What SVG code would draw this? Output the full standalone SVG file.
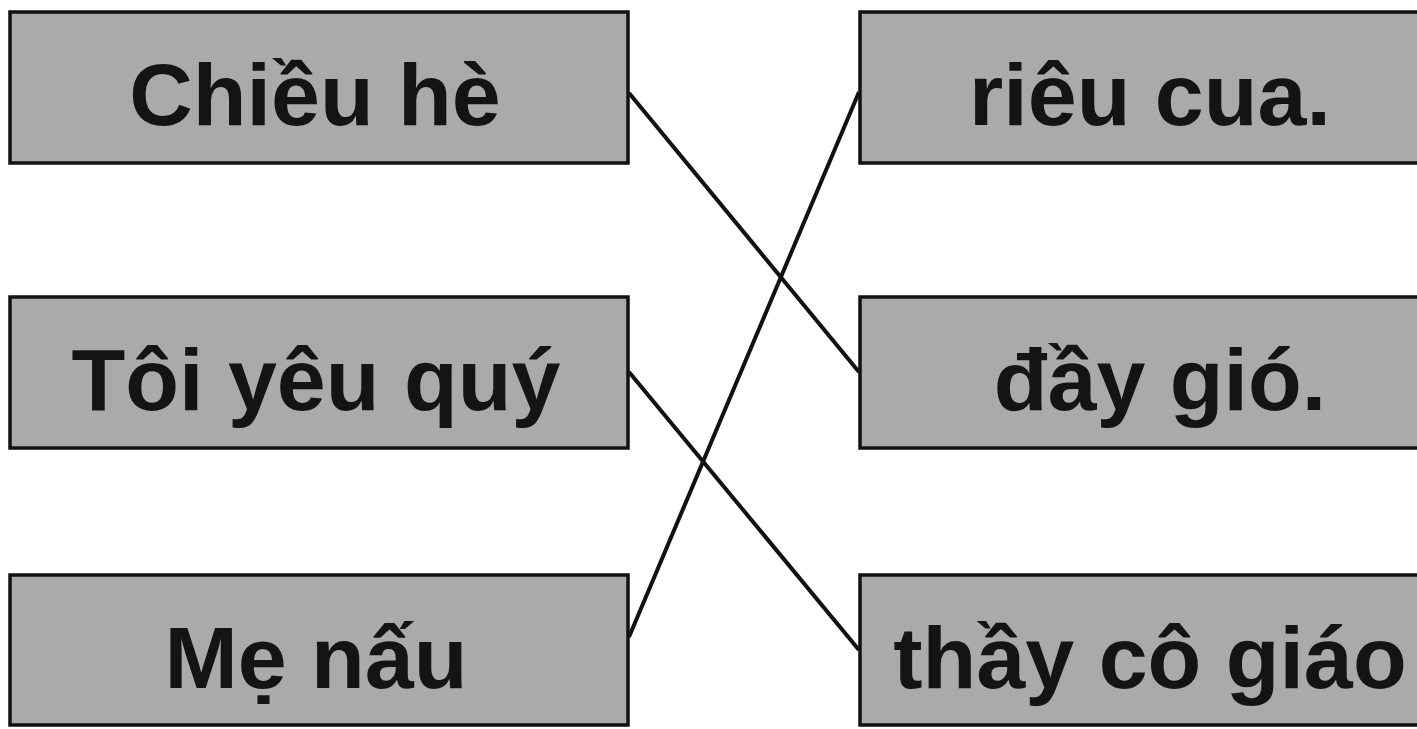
<svg xmlns="http://www.w3.org/2000/svg" width="1417" height="729" viewBox="0 0 1417 729">
<style>
.box{fill:#aaaaaa;stroke:#111;stroke-width:3.5}
.lbl{font-family:"Liberation Sans",Arial,sans-serif;font-weight:bold;font-size:88px;fill:#141414;text-anchor:middle}
.con{stroke:#111;stroke-width:4;fill:none}
</style>
<rect width="1417" height="729" fill="#fff"/>
<g id="n-chieu-he"><rect class="box" x="10" y="12" width="618" height="151"/><text class="lbl" x="315" y="125">Chiều hè</text></g>
<g id="n-toi-yeu-quy"><rect class="box" x="10" y="297" width="618" height="151"/><text class="lbl" x="316" y="410">Tôi yêu quý</text></g>
<g id="n-me-nau"><rect class="box" x="10" y="575" width="618" height="150"/><text class="lbl" x="316" y="688">Mẹ nấu</text></g>
<g id="n-rieu-cua"><rect class="box" x="860" y="12" width="600" height="151"/><text class="lbl" x="1150" y="125">riêu cua.</text></g>
<g id="n-day-gio"><rect class="box" x="860" y="297" width="600" height="151"/><text class="lbl" x="1160" y="410">đầy gió.</text></g>
<g id="n-thay-co-giao"><rect class="box" x="860" y="575" width="600" height="150"/><text class="lbl" x="1150" y="688">thầy cô giáo</text></g>
<g id="connectors">
<line class="con" x1="629" y1="93" x2="859" y2="372"/>
<line class="con" x1="629" y1="372" x2="859" y2="650"/>
<line class="con" x1="629" y1="637" x2="859" y2="92"/>
</g>
</svg>
